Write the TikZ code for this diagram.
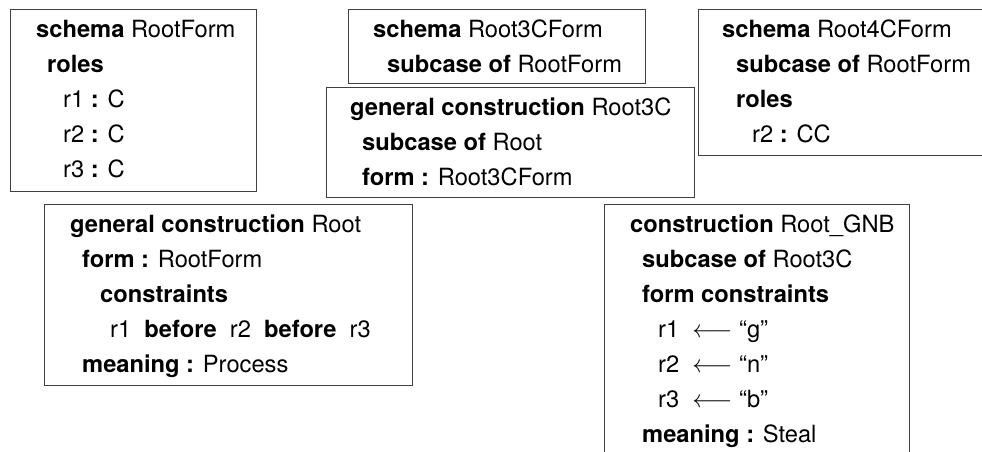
\documentclass[tikz,border=0pt]{standalone}
\usepackage{fontspec}
\setmainfont{TeX Gyre Heros}
\usepackage{amsmath, amssymb}

\begin{document}
\begin{tikzpicture}[x=1pt, y=-1pt,
  box/.style={draw=black!75, line width=0.9pt, rectangle, anchor=north west, inner sep=0pt},
  txt/.style={anchor=north west, inner sep=0pt, align=left,
    font=\fontsize{23.7}{35}\selectfont}]
\useasboundingbox (0,0) rectangle (982,452);
\clip (0,0) rectangle (982,452);
% ---- top row: the form schemas ----
\node[box, minimum width=246, minimum height=182] (rootform) at (10,9) {};
\node[txt] (rootformtxt) at (36,20) {\textbf{schema} RootForm\\
  \hspace*{11pt}\textbf{roles}\\
  \hspace*{27pt}r1 \textbf{:} C\\
  \hspace*{27pt}r2 \textbf{:} C\\
  \hspace*{27pt}r3 \textbf{:} C};
\node[box, minimum width=297, minimum height=74] (root3cform) at (348,9) {};
\node[txt] (root3cformtxt) at (373,20) {\textbf{schema} Root3CForm\\
  \hspace*{14pt}\textbf{subcase of} RootForm};
\node[box, minimum width=300, minimum height=146] (root4cform) at (698,9) {};
\node[txt] (root4cformtxt) at (722,20) {\textbf{schema} Root4CForm\\
  \hspace*{14pt}\textbf{subcase of} RootForm\\
  \hspace*{14pt}\textbf{roles}\\
  \hspace*{30pt}r2 \textbf{:} CC};
% ---- middle: the general construction ----
\node[box, minimum width=368, minimum height=110] (root3c) at (326,87) {};
\node[txt] (root3ctxt) at (350,98) {\textbf{general construction} Root3C\\
  \hspace*{12pt}\textbf{subcase of} Root\\
  \hspace*{12pt}\textbf{form :} Root3CForm};
% ---- bottom row: the constructions ----
\node[box, minimum width=368, minimum height=181] (root) at (44,204) {};
\node[txt] (roottxt) at (70,215) {\textbf{general construction} Root\\
  \hspace*{12pt}\textbf{form :} RootForm\\
  \hspace*{30pt}\textbf{constraints}\\
  \hspace*{40pt}r1\ \ \textbf{before}\ \ r2\ \ \textbf{before}\ \ r3\\
  \hspace*{12pt}\textbf{meaning :} Process};
\node[box, minimum width=305, minimum height=270] (rootgnb) at (604,204) {};
\node[txt] (rootgnbtxt) at (630,215) {\textbf{construction} Root\_GNB\\
  \hspace*{12pt}\textbf{subcase of} Root3C\\
  \hspace*{12pt}\textbf{form constraints}\\
  \hspace*{28pt}r1\ \ $\longleftarrow$\ “g”\\
  \hspace*{28pt}r2\ \ $\longleftarrow$\ “n”\\
  \hspace*{28pt}r3\ \ $\longleftarrow$\ “b”\\
  \hspace*{12pt}\textbf{meaning :} Steal};
\end{tikzpicture}
\end{document}
